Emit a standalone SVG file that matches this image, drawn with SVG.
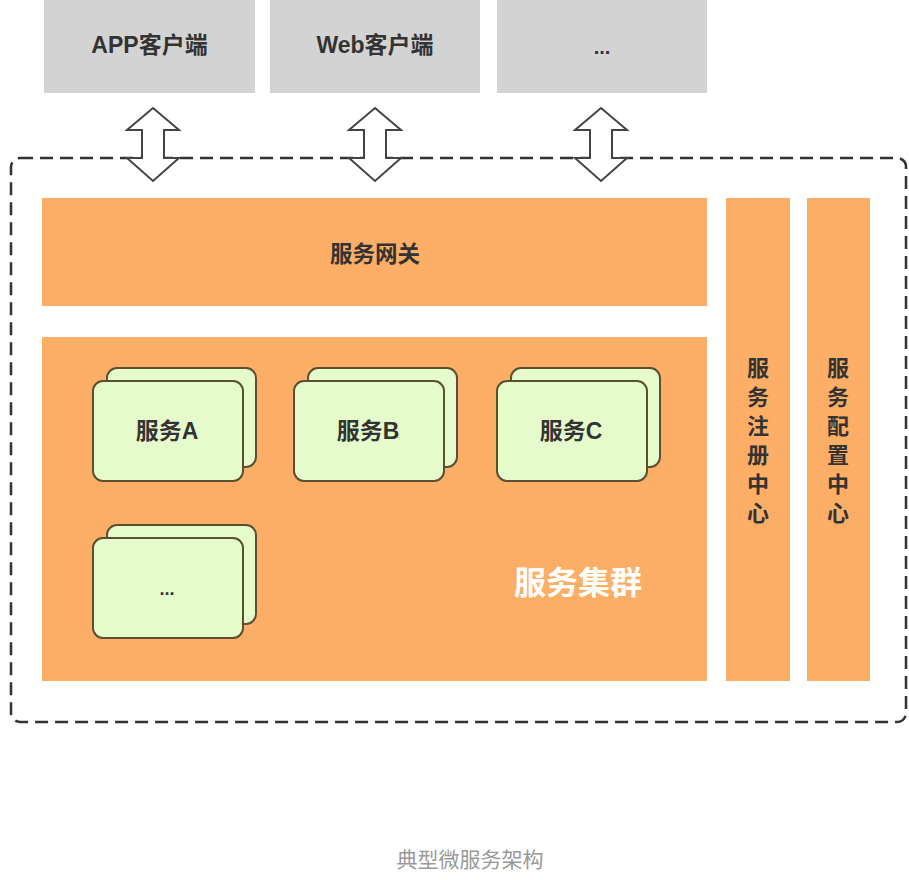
<svg xmlns="http://www.w3.org/2000/svg" width="909" height="880" viewBox="0 0 909 880">
<defs>
<style>
.client{fill:#d3d3d3}
.orange{fill:#fdae66}
.card{fill:#e5fbcc;stroke:#5a5030;stroke-width:2}
.t{font-family:"Liberation Sans","Noto Sans CJK SC",sans-serif;font-weight:bold;fill:#333;text-anchor:middle;dominant-baseline:central}
.arrow{fill:#fff;stroke:#444;stroke-width:2;stroke-linejoin:miter}
</style>
<path id="dbl" class="arrow" d="M0,-37 L26,-15 L11,-15 L11,13 L26,13 L0,36 L-26,13 L-11,13 L-11,-15 L-26,-15 Z"/>
</defs>
<rect width="909" height="880" fill="#fff"/>
<g id="client-app"><rect class="client" x="44" y="0" width="211" height="93"/><text class="t" x="149.5" y="45" font-size="23">APP客户端</text></g>
<g id="client-web"><rect class="client" x="270" y="0" width="210" height="93"/><text class="t" x="375" y="45" font-size="23">Web客户端</text></g>
<g id="client-more"><rect class="client" x="497" y="0" width="210" height="93"/><text class="t" x="602" y="47" font-size="20">...</text></g>
<g id="boundary"><rect x="11" y="158" width="895" height="564" rx="9" fill="none" stroke="#333" stroke-width="2.5" stroke-dasharray="13 7"/></g>
<g id="gateway"><rect class="orange" x="42" y="198" width="665" height="108"/><text class="t" x="375" y="254" font-size="22.5">服务网关</text></g>
<g id="cluster"><rect class="orange" x="42" y="337" width="665" height="344"/><text class="t" x="578" y="583" font-size="32" style="fill:#fff">服务集群</text></g>
<g id="registry"><rect class="orange" x="726" y="198" width="64" height="483"/>
<text class="t" x="758" font-size="22"><tspan x="758" y="368">服</tspan><tspan x="758" y="397">务</tspan><tspan x="758" y="426">注</tspan><tspan x="758" y="455">册</tspan><tspan x="758" y="484">中</tspan><tspan x="758" y="513">心</tspan></text></g>
<g id="config"><rect class="orange" x="807" y="198" width="63" height="483"/>
<text class="t" x="838" font-size="22"><tspan x="838" y="368">服</tspan><tspan x="838" y="397">务</tspan><tspan x="838" y="426">配</tspan><tspan x="838" y="455">置</tspan><tspan x="838" y="484">中</tspan><tspan x="838" y="513">心</tspan></text></g>
<g id="service-a"><rect class="card" x="107" y="368" width="149" height="99" rx="10"/><rect class="card" x="93" y="381" width="150" height="100" rx="10"/><text class="t" x="167" y="431" font-size="23">服务A</text></g>
<g id="service-b"><rect class="card" x="308" y="368" width="149" height="99" rx="10"/><rect class="card" x="294" y="381" width="150" height="100" rx="10"/><text class="t" x="368" y="431" font-size="23">服务B</text></g>
<g id="service-c"><rect class="card" x="511" y="368" width="149" height="99" rx="10"/><rect class="card" x="497" y="381" width="150" height="100" rx="10"/><text class="t" x="571" y="431" font-size="23">服务C</text></g>
<g id="service-more"><rect class="card" x="107" y="525" width="149" height="99" rx="10"/><rect class="card" x="93" y="538" width="150" height="100" rx="10"/><text class="t" x="167" y="589" font-size="18">...</text></g>
<g id="connectors">
<use href="#dbl" x="153" y="145"/>
<use href="#dbl" x="375" y="145"/>
<use href="#dbl" x="601" y="145"/>
</g>
<text x="470" y="858" font-family="'Noto Sans CJK SC',sans-serif" font-size="21" fill="#999" text-anchor="middle" dominant-baseline="central">典型微服务架构</text>
</svg>
